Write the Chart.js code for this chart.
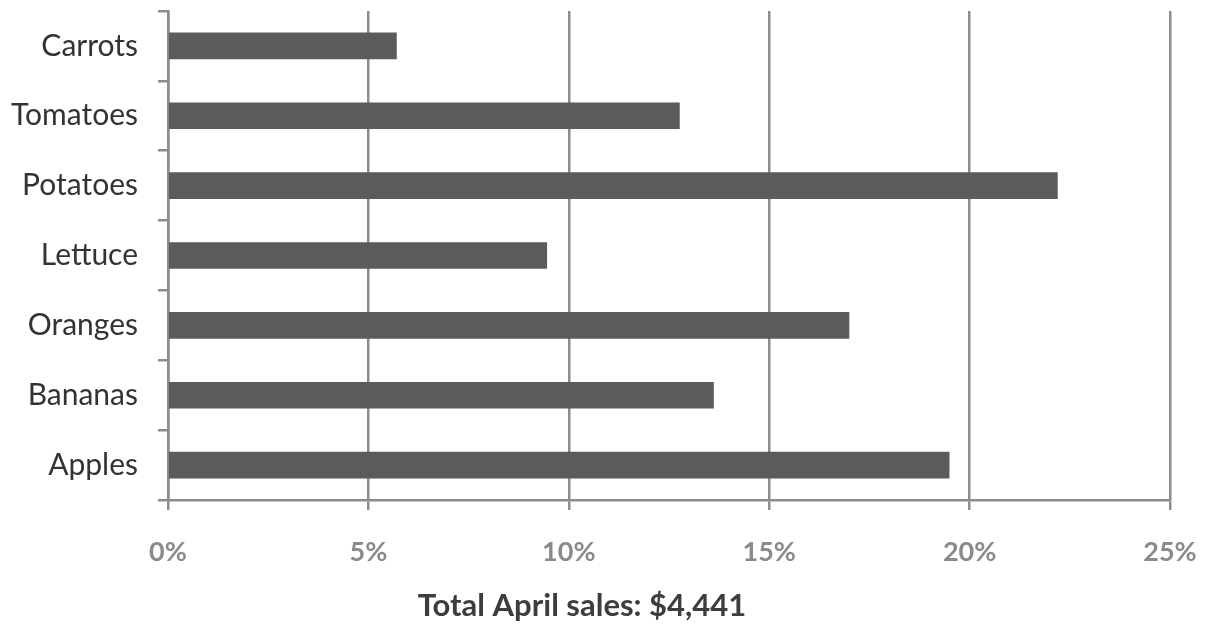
<!DOCTYPE html>
<html>
<head>
<meta charset="utf-8">
<script src="https://cdn.jsdelivr.net/npm/chart.js@4.4.1/dist/chart.umd.min.js"></script>
<style>
  html, body { margin: 0; padding: 0; background: #ffffff; }
  #wrap { width: 1217px; height: 626px; position: relative; }
</style>
</head>
<body>
<div id="wrap"><canvas id="chart" width="1217" height="626"></canvas></div>
<script>
// Share of April sales by product (percent of total)
const categories = ['Carrots', 'Tomatoes', 'Potatoes', 'Lettuce', 'Oranges', 'Bananas', 'Apples'];
const shareValues = [5.70, 12.76, 22.19, 9.45, 16.99, 13.61, 19.49];
const tickValues = [0, 5, 10, 15, 20, 25];
const footerText = 'Total April sales: $4,441';

const GRID = '#8c8c8c';
const FONT = 'Lato, "Open Sans", sans-serif';

// Caption drawn beneath the percentage axis
const footerPlugin = {
  id: 'footerCaption',
  afterDraw(chart) {
    const ctx = chart.ctx;
    ctx.save();
    ctx.font = 'bold 31px ' + FONT;
    ctx.fillStyle = '#3d3d3d';
    ctx.textAlign = 'center';
    ctx.textBaseline = 'middle';
    ctx.fillText(footerText, 582, 606);
    ctx.restore();
  }
};

new Chart(document.getElementById('chart'), {
  type: 'bar',
  data: {
    labels: categories,
    datasets: [{
      data: shareValues,
      backgroundColor: '#5b5b5b',
      borderWidth: 0,
      barThickness: 26
    }]
  },
  options: {
    indexAxis: 'y',
    responsive: false,
    animation: false,
    layout: { padding: { top: 11, right: 47, bottom: 0, left: 0 } },
    plugins: {
      legend: { display: false },
      tooltip: { enabled: false }
    },
    scales: {
      x: {
        min: 0,
        max: 25,
        afterBuildTicks(scale) {
          scale.ticks = tickValues.map(v => ({ value: v }));
        },
        afterFit(scale) {
          scale.height = 126;
          scale.paddingLeft = 0;
          scale.paddingRight = 0;
        },
        grid: {
          color: GRID,
          lineWidth: 2.5,
          drawOnChartArea: true,
          drawTicks: true,
          tickLength: 10,
          tickColor: GRID
        },
        border: { display: true, color: GRID, width: 2.5 },
        ticks: {
          padding: 26,
          color: '#8a8a8a',
          font: { family: FONT, size: 27, weight: 'bold' },
          callback: v => v + '%'
        }
      },
      y: {
        afterFit(scale) {
          scale.width = 168;
          scale.paddingTop = 0;
          scale.paddingBottom = 0;
        },
        grid: {
          offset: true,
          drawOnChartArea: false,
          drawTicks: true,
          tickLength: 10,
          color: GRID,
          lineWidth: 2.5
        },
        border: { display: true, color: GRID, width: 2.5 },
        ticks: {
          padding: 20,
          color: '#333333',
          font: { family: FONT, size: 30 }
        }
      }
    }
  },
  plugins: [footerPlugin]
});
</script>
</body>
</html>
